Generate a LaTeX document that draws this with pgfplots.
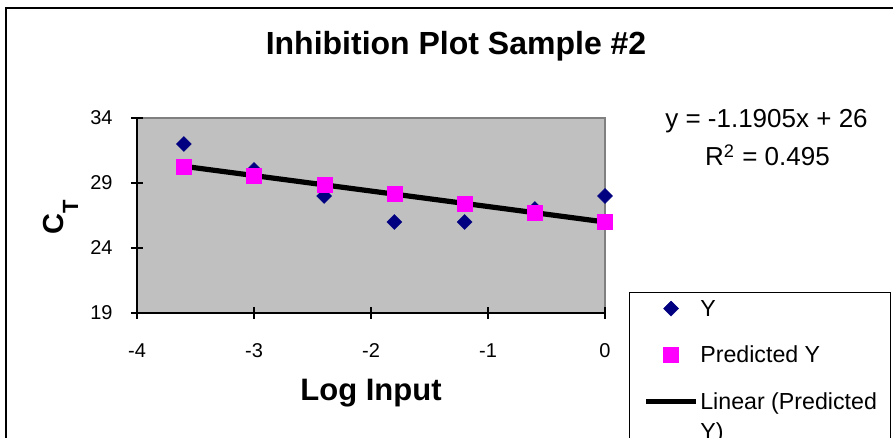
\documentclass[border=0pt]{standalone}
\usepackage{pgfplots}
\pgfplotsset{compat=1.18}
\usepackage{fontspec}
\setmainfont{Liberation Sans}
\definecolor{navyY}{HTML}{000080}
\definecolor{magY}{HTML}{FF00FF}
\definecolor{plotbg}{HTML}{C0C0C0}
\definecolor{plotborder}{HTML}{808080}
\begin{document}
\begin{tikzpicture}
\useasboundingbox (0,0) rectangle (446.5pt,219pt);
\draw[black, line width=0.6pt] (3pt,-2pt) -- (3pt,215pt) -- (448pt,215pt);
\node[font=\bfseries\fontsize{16}{19}\selectfont, anchor=base] at (228pt,191.5pt) {Inhibition Plot Sample \#2};
\node[font=\fontsize{13}{15}\selectfont, anchor=base] at (383.25pt,155pt) {y = -1.1905x + 26};
\node[font=\fontsize{13}{15}\selectfont, anchor=base] at (383.75pt,136pt) {R\textsuperscript{2} = 0.495};
\begin{axis}[
  at={(68.5pt,62.5pt)}, anchor=south west,
  scale only axis, width=234pt, height=97.5pt,
  xmin=-4, xmax=0, ymin=19, ymax=34,
  xtick={-4,-3,-2,-1,0}, ytick={19,24,29,34},
  axis x line*=bottom, axis y line*=left,
  axis line style={-, black, line width=0.7pt},
  axis background/.style={fill=plotbg, draw=plotborder, line width=1pt},
  tick align=center, major tick length=6pt,
  tick style={black, line width=0.6pt},
  ticklabel style={font=\fontsize{10}{12}\selectfont},
  /pgf/number format/assume math mode=true,
  yticklabel style={anchor=east, inner xsep=0pt, xshift=-9pt},
  xticklabel style={anchor=north, inner ysep=0pt, yshift=-12pt},
  clip=false,
  xlabel={Log Input},
  xlabel style={font=\bfseries\fontsize{15.5}{18}\selectfont, at={(axis description cs:0.5,-0.4462)}, anchor=base},
  ylabel={C\raisebox{-7.5pt}{\fontsize{11}{13}\selectfont T}},
  ylabel style={font=\bfseries\fontsize{14.5}{16}\selectfont, at={(axis description cs:-0.1581,0.492)}, anchor=base, rotate=0},
  legend cell align=left,
  legend style={at={(1.0513,0.1092)}, anchor=north west, draw=black, line width=0.5pt,
    inner xsep=7pt, inner ysep=2.1pt, row sep=10.8pt,
    font=\fontsize{11.6}{15}\selectfont,
    /tikz/every odd column/.style={column sep=0.8pt},
    nodes={inner xsep=0pt, inner ysep=0pt, text height=10.2pt, text depth=2pt}},
  legend image code/.code={\draw[mark repeat=2,mark phase=2,#1] plot coordinates {(0pt,0pt) (12.5pt,0pt) (25pt,0pt)};},
]
\addplot[only marks, color=navyY, mark=square*, mark size=2.65pt, mark options={rotate=45, fill=navyY, draw=navyY, line width=0.2pt}]
  coordinates {(-3.6,32) (-3,30) (-2.4,28) (-1.8,26) (-1.2,26) (-0.6,27) (0,28)};
\addlegendentry{Y}
\addplot[only marks, color=magY, mark=square*, mark size=3.75pt, mark options={fill=magY, draw=magY, line width=0.2pt}]
  coordinates {(-3.6,30.2858) (-3,29.5715) (-2.4,28.8572) (-1.8,28.1429) (-1.2,27.4286) (-0.6,26.7143) (0,26)};
\addlegendentry{Predicted Y}
\addplot[black, line width=2.6pt, no marks] coordinates {(-3.6,30.2858) (0,26)};
\addlegendentry[anchor=base west, yshift=-4.1pt, text height=, text depth=]{\begin{tabular}[t]{@{}l@{}}Linear (Predicted\\Y)\end{tabular}}
\end{axis}
\end{tikzpicture}
\end{document}
